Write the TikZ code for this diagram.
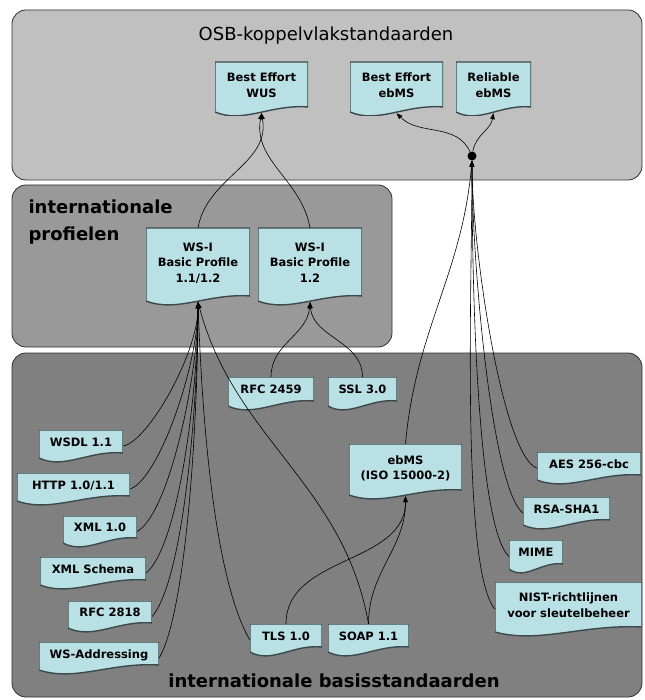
\documentclass[tikz,border=0pt]{standalone}
\usepackage{fontspec}
\setmainfont{DejaVu Sans}
\usetikzlibrary{arrows.meta,calc}
\definecolor{topgray}{HTML}{C0C0C0}
\definecolor{midgray}{HTML}{999999}
\definecolor{basegray}{HTML}{808080}
\definecolor{docblue}{HTML}{B9E0E4}
\definecolor{docline}{HTML}{3C4A4C}
\definecolor{panelline}{HTML}{303030}

\begin{document}
\begin{tikzpicture}[x=1pt,y=-1pt,>={Triangle[length=6pt,width=4.5pt]},
  panel/.style={draw=panelline,line width=0.8pt,rounded corners=14pt},
  doc/.style 2 args={rectangle,inner sep=0pt,align=center,text depth=8pt,
    minimum width=#1pt,minimum height=#2pt,
    font=\fontsize{11.5}{15.5}\selectfont\bfseries,
    path picture={
      \fill[docblue,draw=docline,line width=1.4pt]
        (path picture bounding box.north west) -- (path picture bounding box.north east)
        -- ([yshift=9pt]path picture bounding box.south east)
        .. controls ($(path picture bounding box.south west)!0.6!(path picture bounding box.south east)+(0pt,12pt)$)
        and ($(path picture bounding box.south west)!0.3!(path picture bounding box.south east)+(0pt,-8pt)$)
        .. ([yshift=4pt]path picture bounding box.south west) -- cycle;}},
  link/.style={->,line width=0.6pt},
  heading/.style={font=\fontsize{18}{27}\selectfont\bfseries}]
  \useasboundingbox (0,0) rectangle (644,700);

  % lagen
  \fill[topgray,panel] (12,10) rectangle (642,180);
  \fill[midgray,panel] (12,185) rectangle (392,347);
  \fill[basegray,panel] (12,353) rectangle (642,697);

  \node[font=\fontsize{18}{22}\selectfont] (osb) at (326,36) {OSB-koppelvlakstandaarden};
  \node[heading,align=left,anchor=north west] (prof) at (25,196) {internationale\\profielen};
  \node[heading] (basis) at (334,681) {internationale basisstandaarden};

  % koppelvlakstandaarden
  \node[doc={93}{54}] (wus) at (261.5,89) {Best Effort\\WUS};
  \node[doc={93}{54}] (beebms) at (396.5,89) {Best Effort\\ebMS};
  \node[doc={75}{54}] (relebms) at (493.5,89) {Reliable\\ebMS};
  \node[circle,fill=black,inner sep=0pt,minimum size=9pt] (split) at (472,156) {};

  % profielen
  \node[doc={104}{77}] (bp11) at (198,266.5) {WS-I\\Basic Profile\\1.1/1.2};
  \node[doc={104}{77}] (bp12) at (310,266.5) {WS-I\\Basic Profile\\1.2};

  % basisstandaarden
  \node[doc={86}{33}] (rfcx) at (271,393.5) {RFC 2459};
  \node[doc={69}{33}] (ssl) at (362.5,393.5) {SSL 3.0};
  \node[doc={84}{32}] (wsdl) at (81,446) {WSDL 1.1};
  \node[doc={113}{32}] (http) at (73.5,489) {HTTP 1.0/1.1};
  \node[doc={74}{31}] (xml) at (100,531.5) {XML 1.0};
  \node[doc={106}{32}] (xsd) at (93,573) {XML Schema};
  \node[doc={84}{31}] (rfcy) at (110,616.5) {RFC 2818};
  \node[doc={120}{32}] (wsa) at (99,658) {WS-Addressing};
  \node[doc={72}{32}] (tls) at (286,640) {TLS 1.0};
  \node[doc={81}{32}] (soap) at (368.5,640) {SOAP 1.1};
  \node[doc={113}{55}] (ebms) at (405.5,471.5) {ebMS\\(ISO 15000-2)};
  \node[doc={104}{32}] (aes) at (589,468) {AES 256-cbc};
  \node[doc={87}{32}] (rsa) at (566.5,513) {RSA-SHA1};
  \node[doc={54}{33}] (mime) at (536,556.5) {MIME};
  \node[doc={147}{54}] (nist) at (568.5,609) {NIST-richtlijnen\\voor sleutelbeheer};

  % verbindingen
  \draw[link] (bp11.north) to[out=80,in=-80] ([yshift=3pt]wus.south);
  \draw[link] (bp12.north) to[out=100,in=-100] ([yshift=3pt]wus.south);
  \draw[link] (split) to[out=115,in=-45] ([yshift=3pt]beebms.south);
  \draw[link] (split) to[out=80,in=-100] ([yshift=3pt]relebms.south);
  \draw[link] (rfcx.north) to[out=90,in=-95] ([yshift=3pt]bp12.south);
  \draw[link] (ssl.north) to[out=90,in=-85] ([yshift=3pt]bp12.south);
  \foreach \src/\ang in {wsdl/10,http/20,xml/30,xsd/40,rfcy/50,wsa/60}
    \draw[link] (\src.east) to[out=\ang,in=-90,out looseness=0.4,in looseness=0.8] ([yshift=3pt]bp11.south);
  \draw[link] (tls.west) to[out=120,in=-88,looseness=0.6] ([yshift=3pt]bp11.south);
  \draw[link] (soap.north) to[out=100,in=-75] ([yshift=3pt]bp11.south);
  \draw[link] (tls.north) to[out=90,in=-90] ([yshift=3pt]ebms.south);
  \draw[link] (soap.north) to[out=90,in=-90] ([yshift=3pt]ebms.south);
  \draw[link] (ebms.north) to[out=85,in=-95] (split.south);
  \foreach \src/\ang in {aes/160,rsa/140,mime/135,nist/130}
    \draw[link] (\src.west) to[out=\ang,in=-90,out looseness=0.3,in looseness=0.7] (split.south);
\end{tikzpicture}
\end{document}
